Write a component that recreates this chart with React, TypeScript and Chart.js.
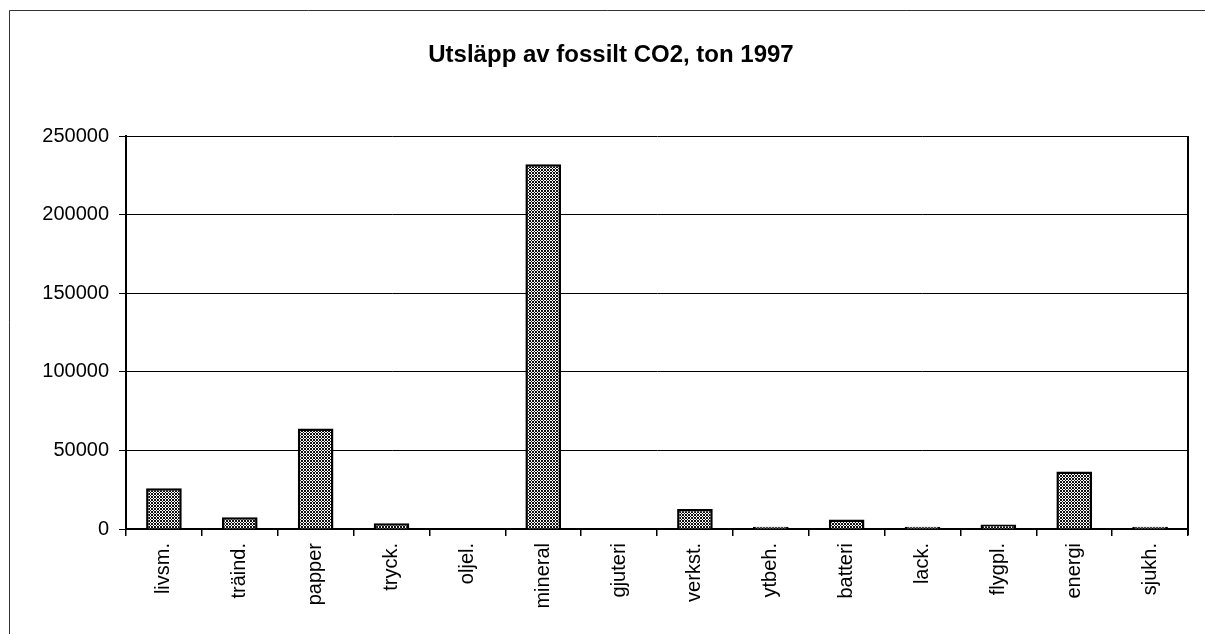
import React, { useEffect, useRef } from "react";
import { Chart, registerables } from "chart.js";

Chart.register(...registerables);

const categories = ["livsm.", "träind.", "papper", "tryck.", "oljel.", "mineral", "gjuteri", "verkst.", "ytbeh.", "batteri", "lack.", "flygpl.", "energi", "sjukh."];
const emissions = [26000, 7500, 64000, 3600, 300, 232000, 200, 12700, 1500, 6000, 1500, 2800, 36500, 1500];
const yTickValues = [0, 50000, 100000, 150000, 200000, 250000];
const chartTitle = "Utsläpp av fossilt CO2, ton 1997";

function makePattern(): CanvasPattern | string {
  const c = document.createElement("canvas");
  c.width = 3;
  c.height = 3;
  const ctx = c.getContext("2d");
  if (!ctx) return "#888";
  ctx.fillStyle = "#ffffff";
  ctx.fillRect(0, 0, 3, 3);
  ctx.fillStyle = "#111111";
  for (let x = 0; x < 3; x++) {
    for (let y = 0; y < 3; y++) {
      if ((x + y) % 3 === 0 || (x - y + 3) % 3 === 0) ctx.fillRect(x, y, 1, 1);
    }
  }
  const p = ctx.createPattern(c, "repeat");
  return p || "#888";
}

export default function App() {
  const ref = useRef<HTMLCanvasElement | null>(null);

  useEffect(() => {
    if (!ref.current) return;
    const pattern = makePattern();

    const framePlugin = {
      id: "frame",
      beforeDraw(chart: any) {
        const ctx = chart.ctx;
        ctx.save();
        ctx.fillStyle = "#ffffff";
        ctx.fillRect(0, 0, chart.width, chart.height);
        ctx.strokeStyle = "#333";
        ctx.lineWidth = 1;
        ctx.beginPath();
        ctx.moveTo(9.5, chart.height);
        ctx.lineTo(9.5, 10.5);
        ctx.lineTo(chart.width, 10.5);
        ctx.stroke();
        ctx.restore();
      },
      afterDraw(chart: any) {
        const ctx = chart.ctx;
        const a = chart.chartArea;
        ctx.save();
        ctx.strokeStyle = "#000";
        ctx.lineWidth = 2;
        ctx.beginPath();
        ctx.moveTo(a.right, a.top);
        ctx.lineTo(a.right, a.bottom + 6);
        ctx.stroke();
        ctx.fillStyle = "#000";
        ctx.font = "bold 24px 'Liberation Sans', Arial, sans-serif";
        ctx.textAlign = "center";
        ctx.textBaseline = "alphabetic";
        ctx.fillText(chartTitle, 611, 62);
        ctx.restore();
      },
    };

    const chart = new Chart(ref.current, {
      type: "bar",
      data: {
        labels: categories,
        datasets: [
          {
            data: emissions,
            backgroundColor: pattern as any,
            borderColor: "#000",
            borderWidth: 2.5,
            categoryPercentage: 1,
            barPercentage: 0.47,
          },
        ],
      },
      options: {
        responsive: false,
        animation: false,
        devicePixelRatio: 1,
        layout: { padding: { top: 136, right: 17, left: 0, bottom: 0 } },
        plugins: {
          legend: { display: false },
          title: { display: false },
          tooltip: { enabled: false },
        },
        scales: {
          x: {
            offset: true,
            grid: {
              offset: true,
              display: true,
              drawOnChartArea: false,
              drawTicks: true,
              tickLength: 7,
              color: "#000",
              lineWidth: 1.5,
            },
            border: { display: true, color: "#000", width: 2 },
            ticks: {
              autoSkip: false,
              minRotation: 90,
              maxRotation: 90,
              padding: 7,
              color: "#000",
              font: { family: "'Liberation Sans', Arial, sans-serif", size: 20 },
            },
            afterFit(scale: any) {
              scale.height = 105;
            },
          },
          y: {
            min: 0,
            max: 250000,
            afterBuildTicks(scale: any) {
              scale.ticks = yTickValues.map((v) => ({ value: v }));
            },
            grid: {
              color: "#000",
              lineWidth: 1,
              tickLength: 7,
              drawTicks: true,
            },
            border: { display: true, color: "#000", width: 2 },
            ticks: {
              padding: 10,
              color: "#000",
              font: { family: "'Liberation Sans', Arial, sans-serif", size: 20 },
              callback: (v: any) => String(v),
            },
            afterFit(scale: any) {
              scale.width = 126;
            },
          },
        },
      },
      plugins: [framePlugin],
    });

    return () => chart.destroy();
  }, []);

  return (
    <div style={{ position: "absolute", left: 0, top: 0, width: 1205, height: 634, background: "#fff" }}>
      <canvas ref={ref} width={1205} height={634} style={{ display: "block" }} />
    </div>
  );
}
